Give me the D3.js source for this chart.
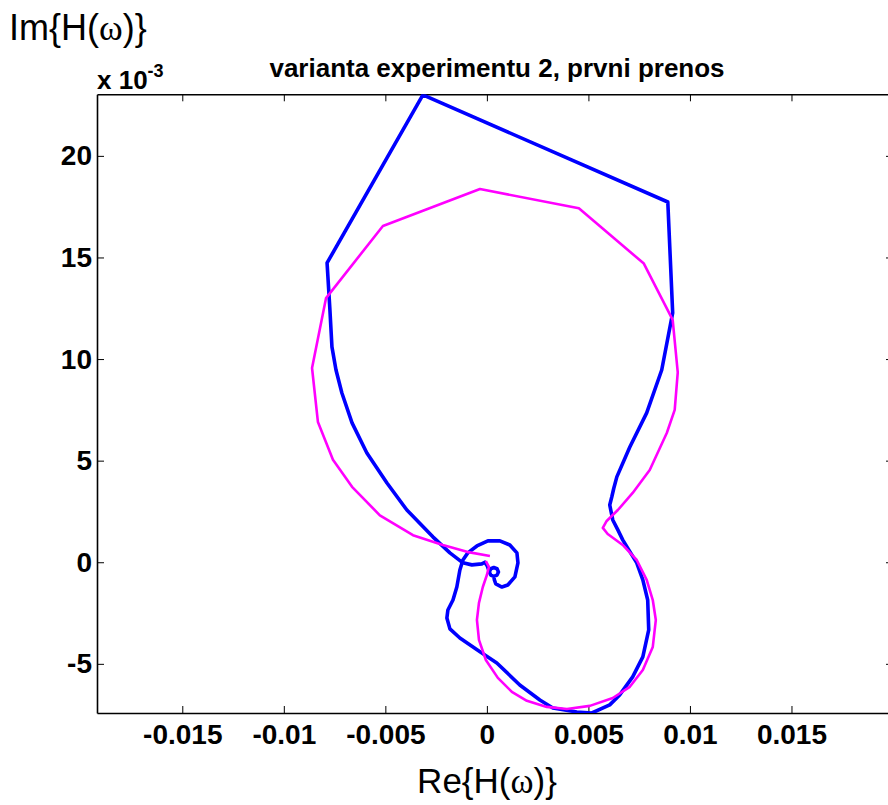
<!DOCTYPE html>
<html><head><meta charset="utf-8">
<script src="https://cdn.jsdelivr.net/npm/d3@7"></script>
<style>body{margin:0;background:#fff}svg{display:block}</style>
</head><body><svg id="c" width="888" height="805"></svg>
<script>
const titleText = "varianta experimentu 2, prvni prenos";
const xTicks = [-0.015, -0.01, -0.005, 0, 0.005, 0.01, 0.015];
const xTickLabels = ["-0.015", "-0.01", "-0.005", "0", "0.005", "0.01", "0.015"];
const yTicks = [-5, 0, 5, 10, 15, 20];
const yTickLabels = ["-5", "0", "5", "10", "15", "20"];
// Im values in units of 1e-3
const blueRe = [0.00034,0.00019,0.00012,0.00019,0.00034,0.00050,0.00057,0.00050,0.00034,0.00019,0.00012,0.00002,-0.00010,-0.00025,-0.00074,-0.00118,-0.00182,-0.00266,-0.00394,-0.00492,-0.00591,-0.00664,-0.00714,-0.00743,-0.00763,-0.00773,-0.00787,-0.00315,0.00891,0.00915,0.00861,0.00787,0.00704,0.00640,0.00625,0.00615,0.00605,0.00620,0.00645,0.00669,0.00738,0.00768,0.00792,0.00797,0.00768,0.00718,0.00654,0.00605,0.00517,0.00443,0.00325,0.00261,0.00162,0.00049,-0.00034,-0.00133,-0.00182,-0.00197,-0.00192,-0.00167,-0.00148,-0.00133,-0.00118,-0.00094,-0.00049,0.00005,0.00064,0.00113,0.00148,0.00153,0.00138,0.00103,0.00074,0.00044,0.00037,0.00034];
const blueIm = [-0.70,-0.63,-0.48,-0.32,-0.26,-0.32,-0.48,-0.63,-0.70,-0.63,-0.48,-0.18,0.00,-0.08,-0.13,-0.03,0.46,1.25,2.57,3.90,5.38,6.86,8.33,9.46,10.60,12.42,14.73,23.00,17.73,12.27,9.46,7.35,5.67,4.20,3.64,3.21,2.82,2.08,1.59,1.10,-0.03,-0.87,-1.86,-3.33,-4.66,-5.64,-6.53,-7.02,-7.42,-7.37,-7.17,-6.78,-6.04,-4.96,-4.41,-3.73,-3.28,-2.74,-2.35,-1.86,-1.22,-0.38,0.11,0.46,0.80,1.05,1.05,0.85,0.46,-0.03,-0.72,-1.12,-1.22,-1.07,-0.87,-0.70];
const magRe = [-0.00005,0.00010,0.00000,-0.00020,-0.00039,-0.00049,-0.00039,-0.00005,0.00054,0.00123,0.00197,0.00295,0.00394,0.00507,0.00620,0.00704,0.00768,0.00817,0.00832,0.00817,0.00787,0.00738,0.00669,0.00595,0.00571,0.00590,0.00645,0.00718,0.00802,0.00886,0.00925,0.00940,0.00915,0.00773,0.00453,-0.00034,-0.00512,-0.00792,-0.00861,-0.00832,-0.00758,-0.00664,-0.00527,-0.00364,-0.00217,-0.00098,0.00015];
const magIm = [0.06,-0.23,-0.63,-1.22,-2.00,-2.84,-3.82,-4.81,-5.69,-6.38,-6.82,-7.12,-7.22,-7.07,-6.68,-6.13,-5.30,-4.17,-2.84,-1.86,-0.87,0.11,0.85,1.39,1.69,2.03,2.57,3.41,4.54,6.36,7.50,9.34,11.93,14.70,17.42,18.37,16.55,13.00,9.56,6.90,5.04,3.71,2.31,1.33,0.85,0.51,0.31];

const L = 97, R = 893, T = 94.3, B = 713;
const svg = d3.select("#c");
const x = d3.scaleLinear().domain([-0.0192, 0.0200]).range([L, R]);
const y = d3.scaleLinear().domain([-7.42, 23.03]).range([B, T]);

svg.append("defs").append("clipPath").attr("id", "clip")
  .append("rect").attr("x", L).attr("y", T).attr("width", R - L).attr("height", B - T);

const font = "'Liberation Sans', Arial, sans-serif";

function styleAxis(g) {
  g.select(".domain").attr("stroke", "#000").attr("stroke-width", 1.6);
  g.selectAll(".tick line").attr("stroke", "#000").attr("stroke-width", 1);
  g.selectAll("text").attr("font-family", font).attr("font-weight", "bold")
    .attr("font-size", 28).attr("fill", "#000");
}

svg.append("g").attr("transform", `translate(0,${B})`)
  .call(d3.axisBottom(x).tickValues(xTicks).tickSize(-7).tickSizeOuter(0)
    .tickPadding(11).tickFormat((d, i) => xTickLabels[i]))
  .call(styleAxis);
svg.append("g").attr("transform", `translate(${L},0)`)
  .call(d3.axisLeft(y).tickValues(yTicks).tickSize(-7).tickSizeOuter(0)
    .tickPadding(5).tickFormat((d, i) => yTickLabels[i]))
  .call(styleAxis);
svg.append("g").attr("transform", `translate(0,${T})`)
  .call(d3.axisTop(x).tickValues(xTicks).tickSize(-7).tickSizeOuter(0).tickFormat(""))
  .call(styleAxis);
svg.append("g").attr("transform", `translate(${R},0)`)
  .call(d3.axisRight(y).tickValues(yTicks).tickSize(-7).tickSizeOuter(0).tickFormat(""))
  .call(styleAxis);

const line = d3.line().x(d => x(d[0])).y(d => y(d[1]));
const plot = svg.append("g").attr("clip-path", "url(#clip)");
plot.append("path").datum(blueRe.map((v, i) => [v, blueIm[i]]))
  .attr("d", line).attr("fill", "none").attr("stroke", "#0000ff")
  .attr("stroke-width", 3.6).attr("stroke-linejoin", "round");
plot.append("path").datum(magRe.map((v, i) => [v, magIm[i]]))
  .attr("d", line).attr("fill", "none").attr("stroke", "#ff00ff")
  .attr("stroke-width", 2.6).attr("stroke-linejoin", "round");

// title
svg.append("text").attr("x", 497).attr("y", 77).attr("text-anchor", "middle")
  .attr("font-family", font).attr("font-weight", "bold").attr("font-size", 26)
  .text(titleText);

// exponent label
const ex = svg.append("text").attr("x", 97).attr("y", 89)
  .attr("font-family", font).attr("font-weight", "bold").attr("font-size", 26);
ex.append("tspan").text("x 10");
ex.append("tspan").attr("dy", -12).attr("font-size", 18).text("-3");

// axis labels
const yl = svg.append("text").attr("x", 9).attr("y", 40)
  .attr("font-family", font).attr("font-size", 36).attr("fill", "#000");
yl.append("tspan").text("Im{H(");
yl.append("tspan").attr("font-family", "'Liberation Serif', serif").text("ω");
yl.append("tspan").text(")}");

const xl = svg.append("text").attr("x", 487).attr("y", 793).attr("text-anchor", "middle")
  .attr("font-family", font).attr("font-size", 35).attr("fill", "#000");
xl.append("tspan").text("Re{H(");
xl.append("tspan").attr("font-family", "'Liberation Serif', serif").text("ω");
xl.append("tspan").text(")}");
</script></body></html>
